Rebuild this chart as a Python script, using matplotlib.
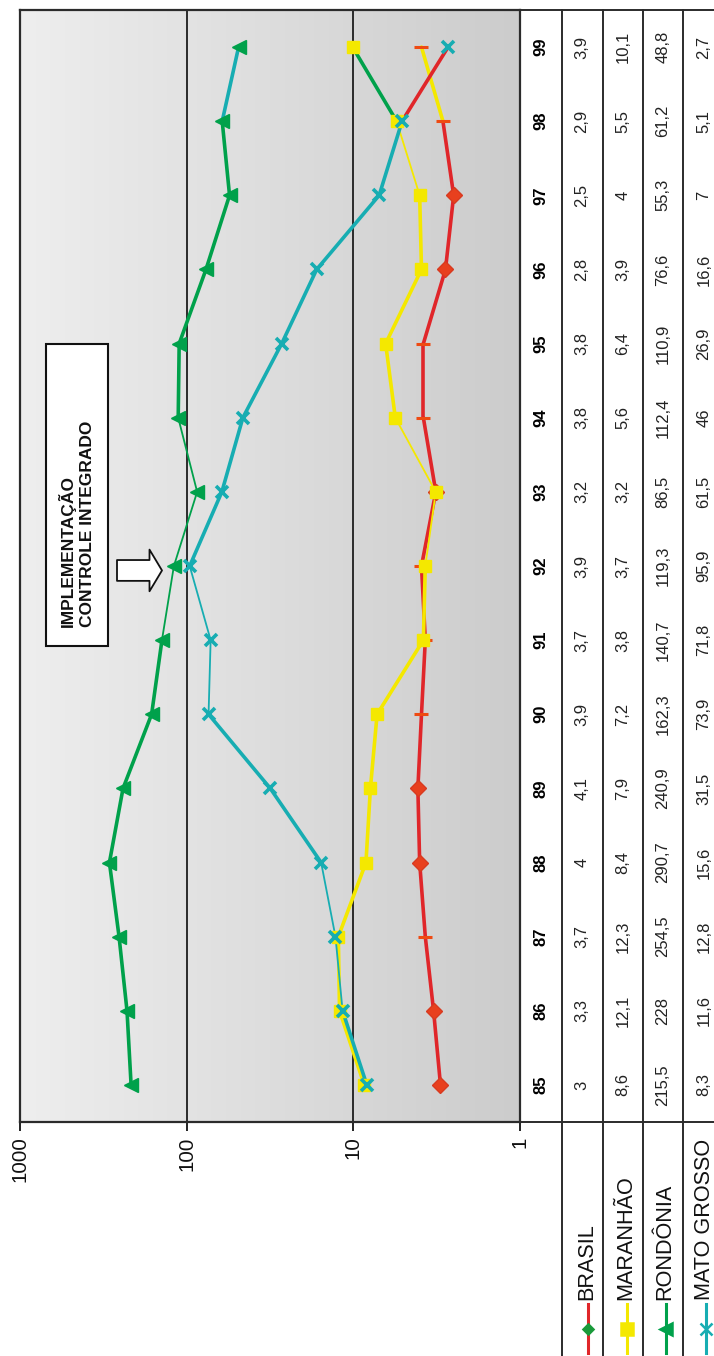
import numpy as np
import matplotlib
matplotlib.use('Agg')
import matplotlib.pyplot as plt
import matplotlib.transforms as mtransforms
from matplotlib import font_manager as fm
from matplotlib.lines import Line2D
from matplotlib.patches import Rectangle
from matplotlib.colors import LinearSegmentedColormap
from matplotlib.ticker import NullLocator

years = list(range(85, 100))
year_labels = [str(y) for y in years]
series_names = ['BRASIL', 'MARANHÃO', 'RONDÔNIA', 'MATO GROSSO']
brasil = [3, 3.3, 3.7, 4, 4.1, 3.9, 3.7, 3.9, 3.2, 3.8, 3.8, 2.8, 2.5, 2.9, 3.9]
maranhao = [8.6, 12.1, 12.3, 8.4, 7.9, 7.2, 3.8, 3.7, 3.2, 5.6, 6.4, 3.9, 4, 5.5, 10.1]
rondonia = [215.5, 228, 254.5, 290.7, 240.9, 162.3, 140.7, 119.3, 86.5, 112.4, 110.9, 76.6, 55.3, 61.2, 48.8]
mato_grosso = [8.3, 11.6, 12.8, 15.6, 31.5, 73.9, 71.8, 95.9, 61.5, 46, 26.9, 16.6, 7, 5.1, 2.7]
x_ticks = [1000, 100, 10, 1]
x_tick_labels = ['1000', '100', '10', '1']
note = 'IMPLEMENTAÇÃO\nCONTROLE INTEGRADO'

RED = '#e0262a'
YEL = '#f4e800'
GRN = '#00a14b'
TEAL = '#17adb2'
EDGE = '#2b2b2b'

names = {f.name for f in fm.fontManager.ttflist}
has_narrow = 'Liberation Sans Narrow' in names
narrow = 'Liberation Sans Narrow' if has_narrow else 'Liberation Sans'
k = 1.0 if has_narrow else 0.82
plt.rcParams['font.family'] = ['Liberation Sans', 'DejaVu Sans']

W, H = 714, 1356
fx = lambda px: px / W
fy = lambda py: 1 - py / H

fig = plt.figure(figsize=(W / 100, H / 100), dpi=100)
ax = fig.add_axes([fx(20), fy(1122), 500 / W, 1112 / H])
ax.set_xscale('log')

# plot area background, light -> dark
grad = np.linspace(0, 1, 256).reshape(1, -1)
bg = LinearSegmentedColormap.from_list('bg', ['#eeeeee', '#cccccc'])
ax.imshow(grad, cmap=bg, extent=[0, 1, 0, 1], transform=ax.transAxes,
          aspect='auto', zorder=0)

for v in (10, 100):
    ax.axvline(v, color=EDGE, lw=1.4, zorder=1)

# series: values, colour, colour of the last segment, thin segments
series = [
    (brasil, RED, YEL, []),
    (maranhao, YEL, GRN, [7, 8, 12]),
    (rondonia, GRN, TEAL, [6, 7, 8]),
    (mato_grosso, TEAL, RED, [1, 2, 5, 6]),
]
for z, (vals, col, last_col, thin) in enumerate(series):
    for i in range(len(years) - 1):
        c = last_col if i == len(years) - 2 else col
        w = 1.3 if i in thin else 2.6
        ax.plot(vals[i:i + 2], years[i:i + 2], color=c, lw=w,
                solid_capstyle='round', zorder=2 + z)

# markers
diamond_years = [85, 86, 88, 89, 93, 96, 97]
bd = [(v, y) for v, y in zip(brasil, years) if y in diamond_years]
bt = [(v, y) for v, y in zip(brasil, years) if y not in diamond_years]
ax.plot([p[0] for p in bd], [p[1] for p in bd], 'D', color='#e8401e',
        ms=8, mec='#d83a20', zorder=6)
ax.plot([p[0] for p in bt], [p[1] for p in bt], '_', color='#ee4a12',
        ms=10, mew=2.2, zorder=6)
ax.plot(maranhao, years, 's', color=YEL, ms=8.5, zorder=7)
ax.plot(rondonia, years, '<', color=GRN, ms=10, zorder=8)
ax.plot(mato_grosso, years, 'x', color=TEAL, ms=9, mew=2.6, zorder=9)

ax.set_xlim(1000, 1)
ax.set_ylim(84.5, 99.5)
ax.set_xticks(x_ticks)
ax.set_xticklabels(x_tick_labels, fontfamily=narrow, fontsize=18 * k)
ax.xaxis.set_minor_locator(NullLocator())
ax.set_yticks([])
ax.tick_params(axis='x', direction='out', length=6.5, width=1.3, pad=4,
               labelrotation=90, colors='#111111')
for s in ax.spines.values():
    s.set_color(EDGE)
    s.set_linewidth(1.6)

# annotation box and arrow
ax.add_patch(Rectangle((0.052, 0.428), 0.124, 0.272, transform=ax.transAxes,
                       facecolor='white', edgecolor='#111111', lw=1.5, zorder=10))
ax.text(0.076, 0.445, note, transform=ax.transAxes, rotation=90,
        ha='left', va='bottom', multialignment='left', linespacing=1.3,
        fontsize=12.5, fontweight='bold', color='#111111', zorder=11)
ax.annotate('', xy=(0.284, 0.496), xytext=(0.194, 0.496),
            xycoords='axes fraction', textcoords='axes fraction',
            arrowprops=dict(arrowstyle='simple,head_length=0.45,head_width=1.5,tail_width=0.75',
                            mutation_scale=20, fc='white', ec='#111111', lw=1.3,
                            shrinkA=0, shrinkB=0), zorder=11)

# data table to the right of the plot
trans = mtransforms.blended_transform_factory(fig.transFigure, ax.transData)
col_x = [fx(582), fx(623), fx(663), fx(704)]
for y, lab in zip(years, year_labels):
    ax.text(fx(541), y, lab, transform=trans, rotation=90, ha='center',
            va='center', fontsize=12, fontweight='bold', clip_on=False)
for cx, (vals, _, _, _) in zip(col_x, series):
    for y, v in zip(years, vals):
        ax.text(cx, y, f'{v:g}'.replace('.', ','), transform=trans,
                rotation=90, ha='center', va='center', fontsize=12,
                color='#222222', clip_on=False)

for xp in (562, 603, 643, 683):
    fig.add_artist(Line2D([fx(xp)] * 2, [fy(10), 0], transform=fig.transFigure,
                          color=EDGE, lw=1.4))
for yp in (10, 1122):
    fig.add_artist(Line2D([fx(520), 1], [fy(yp)] * 2, transform=fig.transFigure,
                          color=EDGE, lw=1.4))

# legend inside the table
key_x = [588, 627, 666, 706]
key_style = [('D', '#1a9a3a', RED, 5.5), ('s', YEL, YEL, 8),
             ('<', GRN, GRN, 9), ('x', TEAL, TEAL, 8)]
for xp, name, (mk, mcol, lcol, ms) in zip(key_x, series_names, key_style):
    fig.add_artist(Line2D([fx(xp)] * 2, [fy(1304), fy(1353)],
                          transform=fig.transFigure, color=lcol, lw=2.2))
    fig.add_artist(Line2D([fx(xp)], [fy(1329)], transform=fig.transFigure,
                          marker=mk, color=mcol, ms=ms, mew=1.8, ls='none'))
    fig.text(fx(xp - 1), fy(1300), name, rotation=90, ha='center', va='bottom',
             fontfamily=narrow, fontsize=19 * k, color='#111111')

fig.savefig('out.png', dpi=100)
